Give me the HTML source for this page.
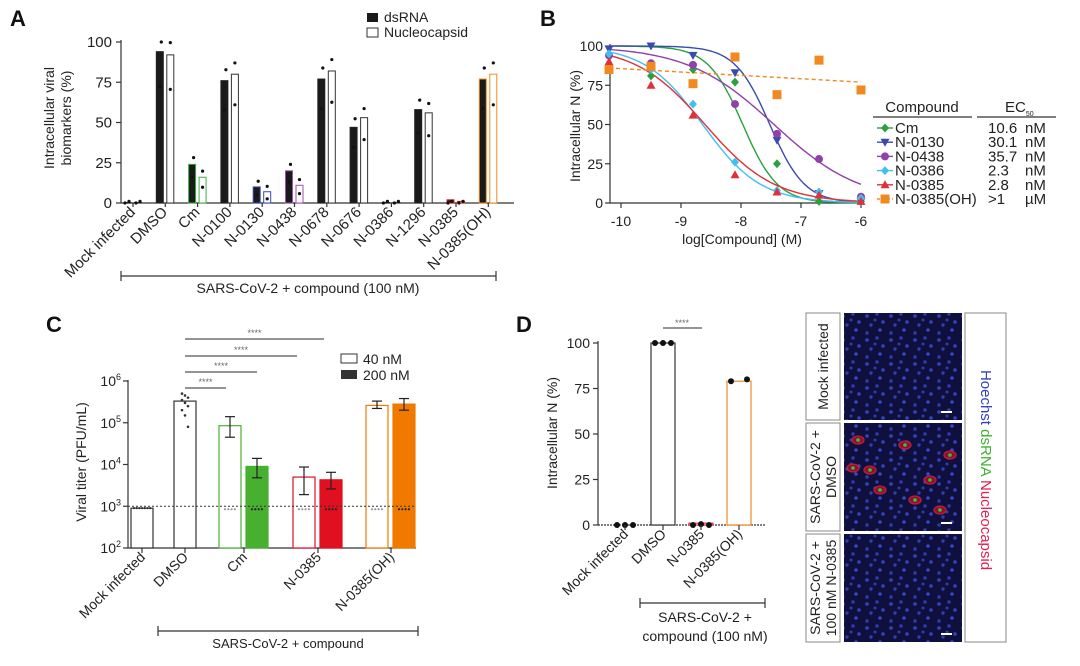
<!DOCTYPE html>
<html><head><meta charset="utf-8"><style>
html,body{margin:0;padding:0;background:#fff;}
svg{display:block;font-family:"Liberation Sans",Arial,sans-serif;}
</style></head><body>
<svg id="fig" width="1080" height="666" viewBox="0 0 1080 666" xmlns="http://www.w3.org/2000/svg">
<defs>
<pattern id="cells" width="24" height="24" patternUnits="userSpaceOnUse">
<rect width="24" height="24" fill="#10103e"/>
<circle cx="3" cy="4" r="1.8" fill="#3444c0"/><circle cx="13" cy="2" r="1.7" fill="#2e3cb0"/>
<circle cx="19" cy="10" r="1.8" fill="#3444c0"/><circle cx="7" cy="13" r="1.7" fill="#2e3cb0"/>
<circle cx="16" cy="18" r="1.8" fill="#3848c8"/><circle cx="3" cy="21" r="1.7" fill="#2e3cb0"/>
<circle cx="11" cy="8" r="1.5" fill="#2e3cb0"/>
</pattern>
</defs>
</svg>
<script>
// ---------- Panel A data ----------
const aCats = ['Mock infected','DMSO','Cm','N-0100','N-0130','N-0438','N-0678','N-0676','N-0386','N-1296','N-0385','N-0385(OH)'];
const aDsRNA = [0,94,24,76,10,20,77,47,0,58,2,77];
const aNucleo = [0,92,16,80,7,11,82,53,0,56,1,80];
const aColors = ['#222','#222','#3cb043','#222','#3a4bb0','#a050b0','#222','#222','#222','#222','#e0202a','#f08a20'];
const aTicks = [0,25,50,75,100];
// ---------- Panel B data ----------
const bX = [-10.2,-9.5,-8.8,-8.1,-7.4,-6.7,-6.0];
const bNames = ['Cm','N-0130','N-0438','N-0386','N-0385','N-0385(OH)'];
const bCm = [95,81,85,77,25,1,1];
const bN0130 = [98,100,94,83,40,6,1];
const bN0438 = [94,89,88,63,44,28,4];
const bN0386 = [95,85,63,26,8,7,3];
const bN0385 = [90,75,56,18,7,5,1];
const bN0385OH = [85,87,76,93,69,91,72];
const bLogEC50 = [-7.97,-7.52,-7.45,-8.64,-8.6];
const bHill = [1.5,1.5,0.6,0.9,0.75];
const bTop = [100,100,100,100,100];
const bEC50Text = ['10.6','30.1','35.7','2.3','2.8','>1'];
const bEC50Unit = ['nM','nM','nM','nM','nM','µM'];
const bOHLine = [86,77];
const bXTicks = [-10,-9,-8,-7,-6];
const bYTicks = [0,25,50,75,100];
// ---------- Panel C data ----------
const cCats = ['Mock infected','DMSO','Cm','N-0385','N-0385(OH)'];
const c40 = [900,330000,85000,5000,260000];
const c200 = [null,null,9000,4300,280000];
const c40Lo = [null,null,45000,1900,220000];
const c40Hi = [null,null,140000,8700,330000];
const c200Lo = [null,null,4800,2600,200000];
const c200Hi = [null,null,14000,6500,380000];
const cDmsoPts = [500000,450000,400000,350000,300000,250000,200000,150000,80000];
const cYTicks = [2,3,4,5,6];
const cLOD = 1000;
// ---------- Panel D data ----------
const dCats = ['Mock infected','DMSO','N-0385','N-0385(OH)'];
const dVals = [0,100,1,79];
const dPts = [[0,0,0],[100,100,100],[0,0.5,0],[79,80]];
const dYTicks = [0,25,50,75,100];

const svg = document.getElementById('fig');
const NS = 'http://www.w3.org/2000/svg';
function mk(tag, attrs, parent){
  const el = document.createElementNS(NS, tag);
  for (const k in attrs) el.setAttribute(k, attrs[k]);
  (parent||svg).appendChild(el);
  return el;
}
function txt(s, attrs, name){
  const el = mk('text', Object.assign({'font-size':13,fill:'#222'}, attrs));
  el.textContent = s;
  
  
  return el;
}
function line(x1,y1,x2,y2,name,extra){
  const el = mk('line', Object.assign({x1,y1,x2,y2,stroke:'#333','stroke-width':1.2}, extra||{}));
  
  
  return el;
}
function dot(cx,cy,r,fill,name){
  const el = mk('circle',{cx,cy,r,fill});
  
  
  return el;
}

txt('A',{x:10,y:26,'font-size':22,'font-weight':'bold',fill:'#111'},'panel-label-a');
txt('B',{x:540,y:26,'font-size':22,'font-weight':'bold',fill:'#111'},'panel-label-b');
txt('C',{x:46,y:332,'font-size':22,'font-weight':'bold',fill:'#111'},'panel-label-c');
txt('D',{x:516,y:332,'font-size':22,'font-weight':'bold',fill:'#111'},'panel-label-d');

// ================= Panel A =================
const aY = v => 203 - v*1.61;
const aX = i => 133 + i*32.3;
line(121,40,121,203,'a-y-axis');
line(121,203,514,203,'a-x-axis');
aTicks.forEach(t=>{
  line(116,aY(t),121,aY(t),'a-y-tick');
  txt(String(t),{x:112,y:aY(t)+5,'text-anchor':'end','font-size':15},'a-y-tick-label');
});
const aYT = txt('',{transform:'translate(60,118) rotate(-90)','text-anchor':'middle','font-size':14},'a-y-axis-title');
aYT.innerHTML = '<tspan x="0" dy="-6">Intracellular viral</tspan><tspan x="0" dy="17">biomarkers (%)</tspan>';
aCats.forEach((c,i)=>{
  const x = aX(i);
  const col = aColors[i];
  const h1 = Math.max(aDsRNA[i]*1.61,0.5), h2 = Math.max(aNucleo[i]*1.61,0.5);
  const b1 = mk('rect',{x:x-9,y:203-h1,width:7,height:h1,fill:'#1a1a1a',stroke:col,'stroke-width':1});
  
  
  const b2 = mk('rect',{x:x+1.5,y:203-h2,width:7,height:h2,fill:'#fff',stroke:col==='#222'?'#333':col,'stroke-width':1});
  
  
  const d1 = Math.min(aDsRNA[i]*1.05+3,100), d2 = Math.min(aNucleo[i]*1.05+3,100);
  if (aDsRNA[i]>3){
    dot(x-4,aY(d1),1.6,'#111','a-point');
    dot(x-5.5,aY(Math.max(aDsRNA[i]*0.8-3,0)),1.6,'#111','a-point');
    dot(x+5,aY(d2),1.6,'#111','a-point');
    dot(x+5,aY(Math.max(aNucleo[i]*0.8-3,0)),1.6,'#111','a-point');
  } else {
    dot(x-8,aY(0),1.6,'#111','a-point');dot(x-4,aY(1),1.6,'#111','a-point');
    dot(x+3,aY(0),1.6,'#111','a-point');dot(x+7,aY(1),1.6,'#111','a-point');
  }
  line(x,203,x,207,'a-x-tick');
  txt(c,{transform:`translate(${x+3},213) rotate(-45)`,'text-anchor':'end','font-size':15},'a-x-label');
});
line(121,276,496,276,'a-bracket');
line(121,271,121,281,'a-bracket-end');line(496,271,496,281,'a-bracket-end');
txt('SARS-CoV-2 + compound (100 nM)',{x:308,y:293,'text-anchor':'middle','font-size':14},'a-bracket-label');
const la1 = mk('rect',{x:367,y:13,width:11,height:9,fill:'#1a1a1a'});


txt('dsRNA',{x:384,y:22,'font-size':14},'legend-dsrna');
const la2 = mk('rect',{x:367,y:28,width:11,height:9,fill:'#fff',stroke:'#333'});


txt('Nucleocapsid',{x:384,y:37,'font-size':14},'legend-nucleocapsid');

// ================= Panel B =================
const bXs = v => 621 + (v+10)*60;
const bYs = v => 203 - v*1.57;
line(610,44,610,203,'b-y-axis');
line(610,203,862,203,'b-x-axis');
bYTicks.forEach(t=>{
  line(605,bYs(t),610,bYs(t),'b-y-tick');
  txt(String(t),{x:603,y:bYs(t)+5,'text-anchor':'end','font-size':14},'b-y-tick-label');
});
bXTicks.forEach(t=>{
  line(bXs(t),203,bXs(t),208,'b-x-tick');
  txt(String(t),{x:bXs(t),y:226,'text-anchor':'middle','font-size':14},'b-x-tick-label');
});
txt('log[Compound] (M)',{x:742,y:244,'text-anchor':'middle','font-size':14},'b-x-axis-title');
txt('Intracellular N (%)',{transform:'translate(580,126) rotate(-90)','text-anchor':'middle','font-size':14},'b-y-axis-title');
const bSeries = [bCm,bN0130,bN0438,bN0386,bN0385,bN0385OH];
const bCols = ['#2aa040','#3a4bb0','#9040a8','#40c0f0','#e0303a','#f08a20'];
const bMarks = ['diamond','tridown','circle','diamond','triup','square'];
function marker(type,x,y,col,name){
  let el;
  if(type==='circle') el = mk('circle',{cx:x,cy:y,r:4,fill:col});
  else if(type==='square') el = mk('rect',{x:x-4.5,y:y-4.5,width:9,height:9,fill:col});
  else if(type==='diamond') el = mk('path',{d:`M${x} ${y-4.5}L${x+4} ${y}L${x} ${y+4.5}L${x-4} ${y}Z`,fill:col});
  else if(type==='triup') el = mk('path',{d:`M${x} ${y-4.5}L${x+4.5} ${y+3.5}L${x-4.5} ${y+3.5}Z`,fill:col});
  else el = mk('path',{d:`M${x} ${y+4.5}L${x+4.5} ${y-3.5}L${x-4.5} ${y-3.5}Z`,fill:col});
  
  
  return el;
}
for(let s=0;s<5;s++){
  let d='';
  for(let k=0;k<=100;k++){
    const lx = -10.2 + k*4.2/100;
    const v = bTop[s]/(1+Math.pow(10,(lx-bLogEC50[s])*bHill[s]));
    d += (k?'L':'M')+bXs(lx).toFixed(1)+' '+bYs(v).toFixed(1);
  }
  const p = mk('path',{d,fill:'none',stroke:bCols[s],'stroke-width':1.4});
  
  
}
line(bXs(-10.2),bYs(bOHLine[0]),bXs(-6),bYs(bOHLine[1]),'fit-line-n-0385-oh',{stroke:'#f08a20','stroke-dasharray':'4 3','stroke-width':1.4});
bSeries.forEach((ser,s)=>{
  ser.forEach((v,k)=>marker(bMarks[s],bXs(bX[k]),bYs(v),bCols[s],'b-point-'+bNames[s].toLowerCase()));
});
txt('Compound',{x:922,y:112,'text-anchor':'middle','font-size':15},'legend-compound-header');
const ec = txt('',{x:1005,y:112,'font-size':15},'legend-ec50-header');
ec.innerHTML = 'EC<tspan font-size="7" dy="4">50</tspan>';
line(873,117,972,117,'legend-header-rule');
line(977,117,1056,117,'legend-header-rule');
bNames.forEach((n,s)=>{
  const y = 128 + s*14.2;
  line(877,y,893,y,'legend-line',{stroke:bCols[s],'stroke-width':1.4,'stroke-dasharray':s===5?'3 2':'none'});
  marker(bMarks[s],885,y,bCols[s],'legend-marker');
  txt(n,{x:895,y:y+5,'font-size':15},'legend-entry');
  txt(bEC50Text[s],{x:988,y:y+5,'font-size':15},'legend-ec50-value');
  txt(bEC50Unit[s],{x:1025,y:y+5,'font-size':15},'legend-ec50-unit');
});

// ================= Panel C =================
const cY = v => 548 - (Math.log10(v)-2)*41.75;
const cXc = [142,185,244,318,391];
line(128,380,128,548,'c-y-axis');
line(128,548,416,548,'c-x-axis');
cYTicks.forEach(t=>{
  const y = cY(Math.pow(10,t));
  line(123,y,128,y,'c-y-tick');
  const e = txt('',{x:121,y:y+5,'text-anchor':'end','font-size':14},'c-y-tick-label');
  e.innerHTML = `10<tspan font-size="9" dy="-6">${t}</tspan>`;
});
txt('Viral titer (PFU/mL)',{transform:'translate(86,462) rotate(-90)','text-anchor':'middle','font-size':14},'c-y-axis-title');
const cCol = ['#333','#333','#48b030','#e01020','#f07a00'];
cCats.forEach((c,i)=>{
  const xc = cXc[i];
  if(i<2){
    const y = cY(c40[i]);
    const r = mk('rect',{x:xc-11,y,width:22,height:548-y,fill:'#fff',stroke:'#333','stroke-width':1.2});
    
    
  } else {
    const y1 = cY(c40[i]);
    const r1 = mk('rect',{x:xc-25,y:y1,width:22,height:548-y1,fill:'#fff',stroke:cCol[i],'stroke-width':1.2});
    
    
    const y2 = cY(c200[i]);
    const r2 = mk('rect',{x:xc+2,y:y2,width:22,height:548-y2,fill:cCol[i],stroke:cCol[i],'stroke-width':1.2});
    
    
    [[xc-14,c40Lo[i],c40Hi[i]],[xc+13,c200Lo[i],c200Hi[i]]].forEach(([x,lo,hi])=>{
      line(x,cY(lo),x,cY(hi),'c-error-bar',{stroke:'#222'});
      line(x-5,cY(lo),x+5,cY(lo),'c-error-cap',{stroke:'#222'});
      line(x-5,cY(hi),x+5,cY(hi),'c-error-cap',{stroke:'#222'});
    });
    [[xc-14,'#999'],[xc+13,'#222']].forEach(([x,f])=>{
      for(let k=0;k<4;k++) dot(x-5+k*3.3,cY(850),1.1,f,'c-lod-point');
    });
  }
  line(xc,548,xc,553,'c-x-tick');
  txt(c,{transform:`translate(${xc+4},558) rotate(-45)`,'text-anchor':'end','font-size':14},'c-x-label');
});
cDmsoPts.forEach((v,k)=>dot(cXc[1]-3+(k%3)*3,cY(v),1.3,'#333','c-dmso-point'));
for(let k=0;k<7;k++) dot(cXc[0]-8+k*2.7,cY(900),1.1,'#333','c-mock-point');
line(128,cY(cLOD),416,cY(cLOD),'c-detection-limit',{'stroke-dasharray':'2 2','stroke-width':1});
[[388,226],[372,257],[356,297],[339,324]].forEach(([y,x2])=>{
  line(185,y,x2,y,'c-significance-bar',{stroke:'#555'});
  txt('****',{x:(185+x2)/2,y:y-3,'text-anchor':'middle','font-size':9,fill:'#666'},'c-significance-stars');
});
const lc1 = mk('rect',{x:341,y:354,width:16,height:9,fill:'#fff',stroke:'#333'});


txt('40 nM',{x:363,y:364,'font-size':14},'legend-40nm');
const lc2 = mk('rect',{x:341,y:370,width:16,height:9,fill:'#333'});


txt('200 nM',{x:363,y:380,'font-size':14},'legend-200nm');
line(158,631,418,631,'c-bracket');
line(158,626,158,636,'c-bracket-end');line(418,626,418,636,'c-bracket-end');
txt('SARS-CoV-2 + compound',{x:288,y:648,'text-anchor':'middle','font-size':13},'c-bracket-label');

// ================= Panel D =================
const dY = v => 525 - v*1.82;
const dXc = [625,663,701,739];
line(598,341,598,525,'d-y-axis');
line(598,525,766,525,'d-x-axis',{'stroke-dasharray':'2 1'});
dYTicks.forEach(t=>{
  line(593,dY(t),598,dY(t),'d-y-tick');
  txt(String(t),{x:590,y:dY(t)+5,'text-anchor':'end','font-size':14},'d-y-tick-label');
});
txt('Intracellular N (%)',{transform:'translate(557,433) rotate(-90)','text-anchor':'middle','font-size':14},'d-y-axis-title');
const dCol = ['#333','#333','#e0303a','#f08a20'];
dCats.forEach((c,i)=>{
  const xc = dXc[i];
  if(i>0){
    const y = dY(Math.max(dVals[i],0.8));
    const r = mk('rect',{x:xc-12,y,width:24,height:525-y,fill:'#fff',stroke:dCol[i],'stroke-width':1.2});
    
    
  }
  const pts = dPts[i];
  pts.forEach((v,k)=>dot(xc-8+k*16/Math.max(pts.length-1,1),dY(v),3,'#111','d-point'));
  line(xc,525,xc,530,'d-x-tick');
  txt(c,{transform:`translate(${xc+4},535) rotate(-45)`,'text-anchor':'end','font-size':14},'d-x-label');
});
line(663,328,702,328,'d-significance-bar',{stroke:'#555'});
txt('****',{x:682,y:326,'text-anchor':'middle','font-size':9,fill:'#666'},'d-significance-stars');
line(640,603,765,603,'d-bracket');
line(640,598,640,608,'d-bracket-end');line(765,598,765,608,'d-bracket-end');
txt('SARS-CoV-2 +',{x:705,y:622,'text-anchor':'middle','font-size':14},'d-bracket-label-line1');
txt('compound (100 nM)',{x:705,y:641,'text-anchor':'middle','font-size':14},'d-bracket-label-line2');

// microscopy images
const rows = [[313,420,['Mock infected']],[423,531,['SARS-CoV-2 +','DMSO']],[534,642,['SARS-CoV-2 +','100 nM N-0385']]];
rows.forEach(([y1,y2,lab],r)=>{
  const b = mk('rect',{x:806,y:y1,width:34,height:y2-y1,fill:'#fff',stroke:'#888'});
  
  
  const t = txt('',{transform:`translate(${823 - (lab.length-1)*8},${(y1+y2)/2}) rotate(-90)`,'text-anchor':'middle','font-size':14},'image-row-label');
  t.innerHTML = lab.map((s,k)=>`<tspan x="0" dy="${k?16:5}">${s}</tspan>`).join('');
  const im = mk('rect',{x:844,y:y1,width:118,height:y2-y1,fill:'url(#cells)'});
  
  
  line(941,y2-8,952,y2-8,'scale-bar',{stroke:'#fff','stroke-width':2});
});
[[858,440],[870,470],[905,445],[880,490],[930,480],[950,455],[940,510],[915,500],[853,468]].forEach(([x,y])=>{
  const e = mk('ellipse',{cx:x,cy:y,rx:6,ry:4,fill:'#a01428',stroke:'#d82040','stroke-width':1.3,opacity:0.85});
  
  
  dot(x,y,1.8,'#40c030','dsrna-signal');
});
const rb = mk('rect',{x:965,y:313,width:41,height:329,fill:'#fff',stroke:'#888'});


const ch = txt('',{transform:'translate(981,470) rotate(90)','text-anchor':'middle','font-size':15},'channel-legend');
ch.innerHTML = '<tspan fill="#3040c0">Hoechst </tspan><tspan fill="#40b030">dsRNA </tspan><tspan fill="#e02050">Nucleocapsid</tspan>';
</script>
</body></html>
